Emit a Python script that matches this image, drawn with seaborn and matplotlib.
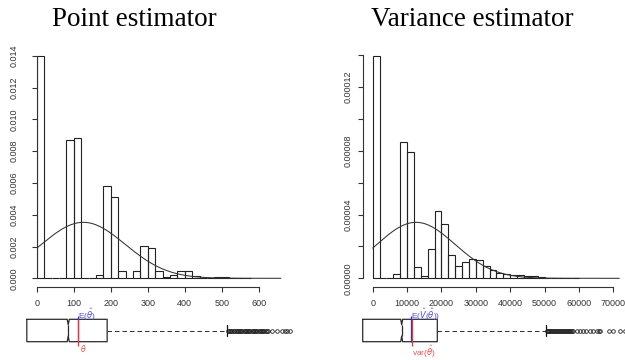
import numpy as np
import pandas as pd
import matplotlib
matplotlib.use('Agg')
import matplotlib.pyplot as plt
import seaborn as sns

# ---- point estimator: histogram (bin width 20), normal fit, boxplot ----
point_bin_width = 20
point_density = [0.01395, 0, 0, 0, 0.0087, 0.00884, 0, 0, 0.0002, 0.0058,
                 0.0051, 0.00044, 0, 0.00044, 0.00202, 0.0019, 0.00044, 0.00006,
                 0.0002, 0.00048, 0.00048, 0.00017, 0.00005, 0.00005, 0.00011,
                 0.00011, 0.00002, 0.00004, 0.00004]
point_mean = 126
point_sd = 113.3
point_curve_to = 660
point_theta = 126
point_box = dict(whislo=3, q1=3, med=102, q3=195, whishi=481, cilo=99.5, cihi=104.5)
point_fliers = [484, 486, 489, 491, 494, 497, 499, 502, 505, 507, 510, 513, 516,
                518, 521, 524, 527, 529, 532, 535, 537, 540, 543, 546, 548, 551,
                554, 557, 560, 562, 565, 568, 571, 574, 577, 580,
                588, 600, 612, 620, 626, 632]

# ---- variance estimator (bin width 2000) ----
var_bin_width = 2000
var_density = [1.396e-4, 0, 0, 2.5e-6, 8.56e-5, 7.92e-5, 6.9e-6, 1.6e-6, 1.82e-5,
               4.24e-5, 3.4e-5, 1.48e-5, 8.0e-6, 1.0e-5, 1.19e-5, 1.15e-5, 7.7e-6,
               5.0e-6, 3.4e-6, 2.5e-6, 2.1e-6, 1.9e-6, 1.6e-6, 1.2e-6, 0.6e-6,
               0.5e-6, 0.5e-6, 0.4e-6, 0, 0.5e-6]
var_mean = 12600
var_sd = 11366
var_curve_to = 71750
var_true = 12780
var_box = dict(whislo=200, q1=200, med=10212, q3=19352, whishi=47260, cilo=9960, cihi=10460)
var_fliers = [47400, 47650, 47900, 48150, 48400, 48650, 48900, 49150, 49400, 49650,
              49900, 50150, 50400, 50650, 50900, 51150, 51400, 51650, 51900, 52150,
              52400, 52650, 52900, 53150, 53400, 53650, 53900, 54200,
              55100, 55900, 56700, 57500, 58500, 59300, 60300, 60900, 61000,
              63500, 64500, 66300, 67500]

W, H = 625, 360
sns.set_style('white')
plt.rcParams['font.family'] = ['Liberation Sans', 'DejaVu Sans']
plt.rcParams['mathtext.fontset'] = 'dejavusans'

fig = plt.figure(figsize=(W / 100, H / 100), dpi=100)
INK = '#222222'
TXT = '#333333'


def px_axes(x0, y0, x1, y1):
    # axes from pixel box (top-left origin)
    return fig.add_axes([x0 / W, 1 - y1 / H, (x1 - x0) / W, (y1 - y0) / H])


def hist_panel(ax, density, width, mean, sd, curve_to):
    edges = [i * width for i in range(len(density) + 1)]
    df = pd.DataFrame({'x': [e + width / 2 for e in edges[:-1]], 'w': density})
    sns.histplot(data=df, x='x', weights='w', bins=edges, stat='count',
                 fill=False, color=INK, linewidth=0.8, ax=ax)
    xs = np.linspace(0, curve_to, 300)
    ys = np.exp(-(xs - mean) ** 2 / (2 * sd ** 2)) / (sd * np.sqrt(2 * np.pi))
    sns.lineplot(x=xs, y=ys, color='#333333', linewidth=0.75, ax=ax)
    ax.set_xlabel('')
    ax.set_ylabel('')
    for s in ('top', 'right'):
        ax.spines[s].set_visible(False)
    for s in ('left', 'bottom'):
        ax.spines[s].set_color('#333333')
        ax.spines[s].set_linewidth(0.8)
    ax.tick_params(axis='both', length=3.6, width=0.8, color='#333333',
                   labelsize=6.5, labelcolor=TXT, left=True, bottom=True)


# left histogram
ax1 = px_axes(36.7, 45, 283, 287)
hist_panel(ax1, point_density, point_bin_width, point_mean, point_sd, point_curve_to)
ax1.set_xlim(0, (283 - 36.7) / 0.37)
ax1.set_ylim(-0.000547, 0.014673)
ax1.spines['left'].set_bounds(0, 0.014)
ax1.spines['bottom'].set_bounds(0, 600)
ax1.set_yticks(np.arange(0, 0.0141, 0.002))
ax1.set_yticklabels(['%.3f' % v for v in np.arange(0, 0.0141, 0.002)],
                    rotation=90, va='center')
ax1.set_xticks(range(0, 601, 100))
ax1.tick_params(axis='y', pad=9.4)
ax1.tick_params(axis='x', pad=4.8)

# right histogram
ax2 = px_axes(363.3, 45, 625, 287)
hist_panel(ax2, var_density, var_bin_width, var_mean, var_sd, var_curve_to)
ax2.set_xlim(-2735, 73407)
ax2.set_ylim(-5.45e-6, 1.4627e-4)
ax2.spines['left'].set_bounds(0, 0.00014)
ax2.spines['bottom'].set_bounds(0, 70000)
yt = np.arange(0, 0.000141, 0.00002)
ax2.set_yticks(yt)
ax2.set_yticklabels(['%.5f' % v if i % 2 == 0 and i < 7 else '' for i, v in enumerate(yt)],
                    rotation=90, va='center')
ax2.set_xticks(range(0, 70001, 10000))
ax2.tick_params(axis='y', pad=4.2)
ax2.tick_params(axis='x', pad=4.8)

# titles
fig.text(134 / W, 1 - 26.5 / H, 'Point estimator', ha='center', va='baseline',
         fontsize=19.5, family='Liberation Serif', color='black')
fig.text(472.5 / W, 1 - 26.5 / H, 'Variance estimator', ha='center', va='baseline',
         fontsize=19.5, family='Liberation Serif', color='black')


def box_panel(ax, stats, fliers, xlim):
    st = dict(stats)
    st['fliers'] = fliers
    parts = ax.bxp([st], positions=[330.5], widths=22.4, orientation='horizontal',
                   shownotches=True, manage_ticks=False,
                   boxprops=dict(color='#2a2a2a', linewidth=0.9),
                   medianprops=dict(color='#2a2a2a', linewidth=0.9),
                   whiskerprops=dict(color='#333333', linewidth=0.75,
                                     linestyle=(0, (4.3, 2.9))),
                   capprops=dict(color='#111111', linewidth=0.9),
                   flierprops=dict(marker='o', markersize=2.6, markerfacecolor='none',
                                   markeredgecolor=INK, markeredgewidth=0.6))
    # lower whisker sits on the box edge in the original
    parts['caps'][0].set_visible(False)
    parts['whiskers'][0].set_visible(False)
    ax.set_xlim(*xlim)
    ax.set_ylim(360, 305)
    ax.axis('off')


BLUE = '#2a2aff'
RED = '#ff2a2a'

bx1 = px_axes(0, 305, 310, 360)
box_panel(bx1, point_box, point_fliers, (-61.1, 679.8))
bx1.vlines(point_mean, 315.5, 341.7, color=BLUE, linewidth=0.9)
bx1.vlines(point_theta, 319.3, 346, color=RED, linewidth=0.9)
bx1.text(point_mean, 314.5, r'E($\hat{\theta}$)', color='#4a4aff', fontsize=6,
         ha='left', va='center')
bx1.annotate(r'$\theta$', xy=(point_theta, 348.3), xytext=(1.5, 0),
             textcoords='offset points', color='#ff4a4a', fontsize=5.5,
             ha='left', va='center')

bx2 = px_axes(310, 305, 625, 360)
box_panel(bx2, var_box, var_fliers, (-13331, 67542))
bx2.vlines(var_mean, 315.5, 341.7, color=BLUE, linewidth=0.9)
bx2.vlines(var_true, 319.3, 346, color=RED, linewidth=0.9)
bx2.text(var_mean, 314.5, r'E($\hat{V}$($\hat{\theta}$))', color='#4a4aff', fontsize=6,
         ha='left', va='center')
bx2.text(var_true, 351.5, r'var($\hat{\theta}$)', color='#ff4a4a', fontsize=6,
         ha='left', va='center')

fig.savefig('out.png', dpi=100)
